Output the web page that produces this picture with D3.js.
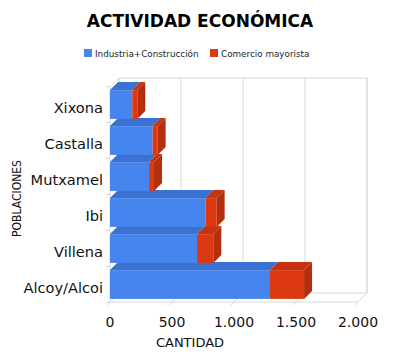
<!DOCTYPE html>
<html><head><meta charset="utf-8">
<script src="https://cdn.jsdelivr.net/npm/d3@7"></script>
<style>body{margin:0;background:#fff}svg{display:block;font-family:"DejaVu Sans",sans-serif}</style>
</head><body><svg id="c" width="400" height="358"></svg>
<script>
const categories = ["Xixona","Castalla","Mutxamel","Ibi","Villena","Alcoy/Alcoi"];
const industria = [180, 344, 315, 770, 702, 1290];
const comercio = [40, 40, 40, 90, 131, 275];
const seriesNames = ["Industria+Construcción","Comercio mayorista"];
const xTicks = [0, 500, 1000, 1500, 2000];
const xTickLabels = ["0","500","1.000","1.500","2.000"];

const svg = d3.select("#c");
const W = 9, BD = 8; // wall depth, bar depth
const x = d3.scaleLinear().domain([0,2000]).range([110,358]);
const y = d3.scaleBand().domain(categories).range([86.5,302.5]).paddingInner(0.2).paddingOuter(0.1);
const top0 = 87, bot0 = 302;
const grid = "#d9d9d9";

// title
svg.append("text").attr("x",200).attr("y",27).attr("text-anchor","middle")
  .attr("font-size",17).attr("font-weight","bold").text("ACTIVIDAD ECONÓMICA");

// legend
const colors = ["#4684ee","#dc3912"];
const legX = [84, 210];
seriesNames.forEach((n,i)=>{
  svg.append("rect").attr("x",legX[i]).attr("y",49).attr("width",8).attr("height",8).attr("fill",colors[i]);
  svg.append("text").attr("x",legX[i]+11).attr("y",57).attr("font-size",8.8).attr("fill","#222").text(n);
});

// back wall
const g = svg.append("g");
g.append("path").attr("d",`M${x(0)+W},${bot0-W}V${top0-W}H${x(2000)+W}V${bot0-W}`)
  .attr("fill","none").attr("stroke",grid);
xTicks.forEach(t=>{
  g.append("line").attr("x1",x(t)+W).attr("x2",x(t)+W).attr("y1",top0-W).attr("y2",bot0-W).attr("stroke",grid);
  // floor diagonals
  g.append("line").attr("x1",x(t)-3).attr("y1",bot0+3).attr("x2",x(t)+W).attr("y2",bot0-W).attr("stroke",grid);
});
// floor
g.append("line").attr("x1",x(0)).attr("x2",x(2000)).attr("y1",bot0).attr("y2",bot0).attr("stroke",grid);
g.append("line").attr("x1",x(0)+W).attr("x2",x(2000)+W).attr("y1",bot0-W).attr("y2",bot0-W).attr("stroke",grid);
// left wall
g.append("line").attr("x1",x(0)).attr("x2",x(0)).attr("y1",top0).attr("y2",bot0).attr("stroke",grid);
g.append("line").attr("x1",x(0)).attr("x2",x(0)+W).attr("y1",top0).attr("y2",top0-W).attr("stroke",grid);
// left ticks at band boundaries
const step = y.step();
for(let i=0;i<=categories.length;i++){
  const yy = y(categories[0]) - step*0.1 + i*step;
  g.append("line").attr("x1",x(0)-4).attr("x2",x(0)).attr("y1",yy).attr("y2",yy).attr("stroke",grid);
}

// bars (bottom first)
const bw = y.bandwidth();
const shades = {front:["#4684ee","#dc3912"], top:["#3b71d1","#c5340f"], side:["#3560b5","#b52e0d"]};
const rows = categories.map((c,i)=>({c, segs:[[0,industria[i]],[industria[i],industria[i]+comercio[i]]]}));
rows.slice().reverse().forEach(r=>{
  const y0 = y(r.c), y1 = y0+bw;
  r.segs.forEach((s,k)=>{
    const xa = x(s[0]), xb = x(s[1]);
    g.append("rect").attr("x",xa).attr("y",y0).attr("width",xb-xa).attr("height",bw).attr("fill",shades.front[k]);
    g.append("path").attr("d",`M${xa},${y0}L${xa+BD},${y0-BD}L${xb+BD},${y0-BD}L${xb},${y0}Z`).attr("fill",shades.top[k]);
    if(k===r.segs.length-1){
      g.append("path").attr("d",`M${xb},${y0}L${xb+BD},${y0-BD}L${xb+BD},${y1-BD}L${xb},${y1}Z`).attr("fill",shades.side[k]);
    }
  });
});

// category labels
categories.forEach(c=>{
  svg.append("text").attr("x",103).attr("y",y(c)+bw/2+8.8).attr("text-anchor","end")
    .attr("font-size",14.6).attr("fill","#111").text(c);
});
// x tick labels
xTicks.forEach((t,i)=>{
  svg.append("text").attr("x",x(t)).attr("y",327).attr("text-anchor","middle")
    .attr("font-size",14).attr("fill","#111").text(xTickLabels[i]);
});
// axis titles
svg.append("text").attr("x",190).attr("y",347).attr("text-anchor","middle").attr("font-size",13).attr("fill","#111").text("CANTIDAD");
svg.append("text").attr("transform","translate(21,198.5) rotate(-90)").attr("text-anchor","middle")
  .attr("font-size",12.5).attr("textLength",77).attr("lengthAdjust","spacingAndGlyphs").attr("fill","#111").text("POBLACIONES");
</script></body></html>
